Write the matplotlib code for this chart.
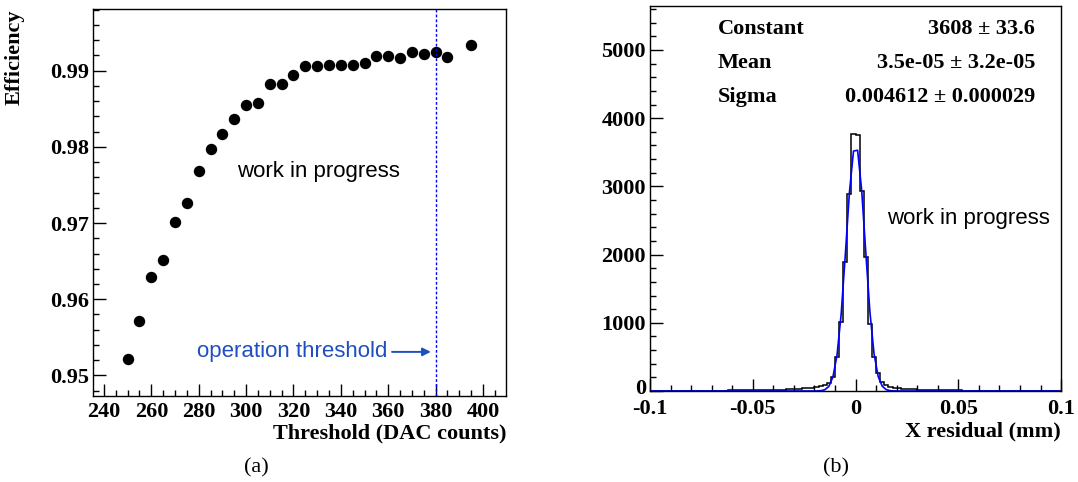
import numpy as np
import matplotlib
matplotlib.use("Agg")
import matplotlib.pyplot as plt
from matplotlib.ticker import MultipleLocator, FuncFormatter
from matplotlib.transforms import ScaledTranslation

plt.rcParams["axes.unicode_minus"] = False

# ---- (a) efficiency vs threshold ---------------------------------------
threshold = [250, 255, 260, 265, 270, 275, 280, 285, 290, 295, 300, 305, 310,
             315, 320, 325, 330, 335, 340, 345, 350, 355, 360, 365, 370, 375,
             380, 385, 395]
efficiency = [0.9522, 0.9572, 0.9629, 0.9652, 0.9702, 0.9727, 0.9769, 0.9797,
              0.9817, 0.9837, 0.9855, 0.9858, 0.9882, 0.9883, 0.9894, 0.9906,
              0.9906, 0.9907, 0.9907, 0.9907, 0.9910, 0.9919, 0.9919, 0.9917,
              0.9924, 0.9922, 0.9924, 0.9918, 0.9934]
op_threshold = 380

# ---- (b) X residual histogram (100 bins, -0.1 .. 0.1 mm) ----------------
bin_edges = np.linspace(-0.1, 0.1, 101)
counts = [1, 2, 2, 1, 2, 3, 2, 3, 3, 4,
          3, 4, 4, 5, 5, 6, 5, 6, 7, 8,
          8, 9, 9, 10, 11, 12, 12, 14, 15, 16,
          17, 19, 21, 24, 27, 30, 33, 37, 42, 48,
          56, 66, 82, 110, 212, 498, 1012, 1891, 2889, 3762,
          3755, 2937, 1960, 982, 505, 259, 135, 88, 60, 45,
          38, 33, 30, 27, 24, 21, 18, 16, 14, 13,
          12, 11, 10, 9, 8, 8, 7, 6, 6, 5,
          5, 5, 4, 4, 4, 3, 3, 3, 3, 2,
          2, 2, 2, 2, 1, 2, 1, 1, 1, 1]
fit_constant, fit_mean, fit_sigma = 3608, 3.5e-05, 0.004612
stats_names = ["Constant", "Mean", "Sigma"]
stats_values = ["3608 \u00b1 33.6", "3.5e-05 \u00b1 3.2e-05", "0.004612 \u00b1 0.000029"]

serif = ["Liberation Serif", "DejaVu Serif"]
sans = ["Liberation Sans", "DejaVu Sans"]
FS = 16
blue_txt = "#1f4fbf"


def root_style(ax, xpad=4):
    for sp in ax.spines.values():
        sp.set_linewidth(1.0)
    ax.tick_params(which="both", direction="in", top=False, right=False,
                   width=1.0)
    ax.tick_params(which="major", length=9)
    ax.tick_params(which="minor", length=4.5)
    ax.tick_params(axis="x", pad=xpad)
    ax.tick_params(axis="y", pad=3)
    for lab in ax.get_xticklabels() + ax.get_yticklabels():
        lab.set_fontfamily(serif)
        lab.set_fontweight("bold")
        lab.set_fontsize(FS)


fig = plt.figure(figsize=(10.78, 4.82), dpi=100)
fig.patch.set_facecolor("white")

# ====================== panel (a) ========================================
ax1 = fig.add_axes([0.0863, 0.1784, 0.3831, 0.8029])
ax1.plot(threshold, efficiency, "o", color="black", markersize=7.2, ls="none")
ax1.axvline(op_threshold, color="blue", ls=(0, (2, 1.5)), lw=1.0)
ax1.set_xlim(235.4, 409.7)
ax1.set_ylim(0.9473, 0.9981)
ax1.xaxis.set_major_locator(MultipleLocator(20))
ax1.xaxis.set_minor_locator(MultipleLocator(5))
ax1.yaxis.set_major_locator(MultipleLocator(0.01))
ax1.yaxis.set_minor_locator(MultipleLocator(0.002))
ax1.yaxis.set_major_formatter(FuncFormatter(lambda v, p: f"{v:.2f}"))
root_style(ax1)
ax1.set_xlabel("Threshold (DAC counts)", fontfamily=serif, fontweight="bold",
               fontsize=FS)
ax1.xaxis.set_label_coords(1.0, -0.072)
ax1.xaxis.label.set_ha("right")
ax1.set_ylabel("Efficiency", fontfamily=serif, fontweight="bold", fontsize=FS)
ax1.yaxis.set_label_coords(-0.19, 1.0)
ax1.yaxis.label.set_va("center")
ax1.yaxis.label.set_ha("right")

ax1.text(0.547, 0.579, "work in progress", transform=ax1.transAxes,
         fontfamily=sans, fontsize=FS, ha="center", va="center", color="black")
ax1.text(0.482, 0.114, "operation threshold", transform=ax1.transAxes,
         fontfamily=sans, fontsize=FS, ha="center", va="center", color=blue_txt)
ax1.annotate("", xy=(0.818, 0.114), xytext=(0.724, 0.114),
             xycoords="axes fraction", textcoords="axes fraction",
             arrowprops=dict(arrowstyle="-|>", color=blue_txt, lw=1.4,
                             mutation_scale=12, shrinkA=0, shrinkB=0))

# ====================== panel (b) ========================================
ax2 = fig.add_axes([0.6030, 0.1888, 0.3813, 0.7988])
ax2.stairs(counts, bin_edges, color="black", lw=1.1)
centers = 0.5 * (bin_edges[:-1] + bin_edges[1:])
fit_curve = fit_constant * np.exp(-0.5 * ((centers - fit_mean) / fit_sigma) ** 2)
ax2.plot(centers, fit_curve, color="blue", lw=1.2)
ax2.set_xlim(-0.1, 0.1)
ax2.set_ylim(0, 5645)
ax2.xaxis.set_major_locator(MultipleLocator(0.05))
ax2.xaxis.set_minor_locator(MultipleLocator(0.01))
ax2.yaxis.set_major_locator(MultipleLocator(1000))
ax2.yaxis.set_minor_locator(MultipleLocator(200))
ax2.xaxis.set_major_formatter(FuncFormatter(
    lambda v, p: "0" if abs(v) < 1e-9 else f"{v:g}"))
ax2.yaxis.set_major_formatter(FuncFormatter(lambda v, p: f"{v:.0f}"))
root_style(ax2, xpad=6)
ax2.set_xlabel("X residual (mm)", fontfamily=serif, fontweight="bold",
               fontsize=FS)
ax2.xaxis.set_label_coords(1.0, -0.078)
ax2.xaxis.label.set_ha("right")

for i, (name, val) in enumerate(zip(stats_names, stats_values)):
    y = 0.941 - i * 0.0885
    ax2.text(0.165, y, name, transform=ax2.transAxes, fontfamily=serif,
             fontweight="bold", fontsize=FS, ha="left", va="center")
    ax2.text(0.937, y, val, transform=ax2.transAxes, fontfamily=serif,
             fontweight="bold", fontsize=FS, ha="right", va="center")

ax2.text(0.774, 0.449, "work in progress", transform=ax2.transAxes,
         fontfamily=sans, fontsize=FS, ha="center", va="center", color="black")

fig.text(256 / 1078, 1 - 468 / 482, "(a)", fontfamily=serif, fontsize=FS,
         ha="center", va="center")
fig.text(836 / 1078, 1 - 468 / 482, "(b)", fontfamily=serif, fontsize=FS,
         ha="center", va="center")

# lift the "0" count label a hair so it clears the "-0.1" label below it
fig.canvas.draw()
for tick in ax2.yaxis.get_major_ticks():
    if tick.label1.get_text() == "0":
        tick.label1.set_transform(
            tick.label1.get_transform()
            + ScaledTranslation(0, 3 / 72, fig.dpi_scale_trans))

fig.savefig("out.png", dpi=100, facecolor="white")
